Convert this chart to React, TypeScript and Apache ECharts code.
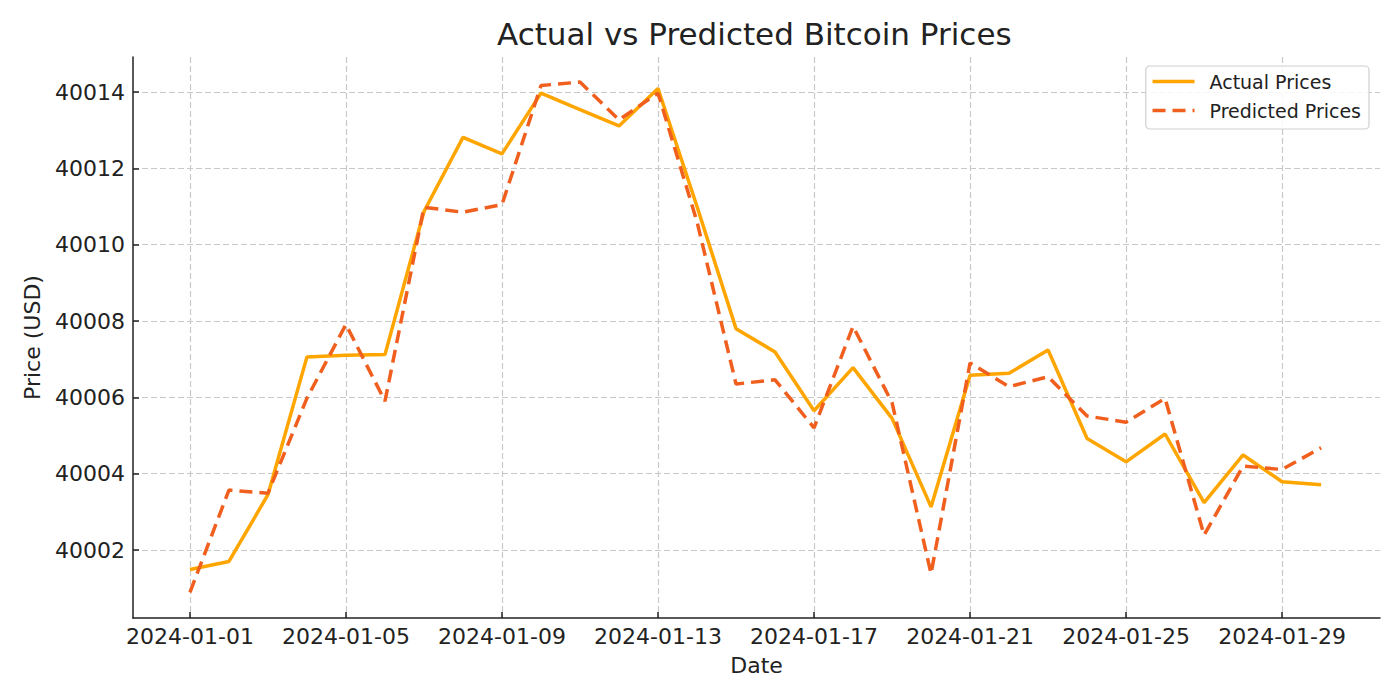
import * as echarts from 'echarts';
import { useEffect, useRef } from 'react';

const dates = [
    '2024-01-01', '2024-01-02', '2024-01-03', '2024-01-04', '2024-01-05',
    '2024-01-06', '2024-01-07', '2024-01-08', '2024-01-09', '2024-01-10',
    '2024-01-11', '2024-01-12', '2024-01-13', '2024-01-14', '2024-01-15',
    '2024-01-16', '2024-01-17', '2024-01-18', '2024-01-19', '2024-01-20',
    '2024-01-21', '2024-01-22', '2024-01-23', '2024-01-24', '2024-01-25',
    '2024-01-26', '2024-01-27', '2024-01-28', '2024-01-29', '2024-01-30',
];

const actualPrices = [
    40001.49, 40001.70, 40003.45, 40007.06, 40007.10, 40007.12, 40010.87, 40012.81,
    40012.38, 40013.97, 40013.54, 40013.11, 40014.09, 40011.0, 40007.80, 40007.19,
    40005.65, 40006.78, 40005.45, 40003.13, 40006.58, 40006.63, 40007.24, 40004.92,
    40004.31, 40005.04, 40003.24, 40004.49, 40003.79, 40003.71,
];

const predictedPrices = [
    40000.89, 40003.57, 40003.49, 40005.98, 40007.91, 40005.90, 40010.98, 40010.85,
    40011.05, 40014.17, 40014.26, 40013.27, 40013.97, 40010.6, 40006.35, 40006.46,
    40005.20, 40007.86, 40005.86, 40001.38, 40006.90, 40006.28, 40006.54, 40005.51,
    40005.35, 40005.97, 40002.39, 40004.20, 40004.11, 40004.68,
];

// every 4th day gets a label
const dateTicks = [0, 4, 8, 12, 16, 20, 24, 28];
const priceTicks = [40002, 40004, 40006, 40008, 40010, 40012, 40014];

const font = 'DejaVu Sans';
const textColor = '#222';

export default function App() {
    const chartRef = useRef<HTMLDivElement>(null);

    useEffect(() => {
        const chart = echarts.init(chartRef.current, null, { renderer: 'svg' });

        const axisTick = {
            show: true,
            inside: true,
            length: 6,
            lineStyle: { color: textColor, width: 1.5 },
        };
        const splitLine = {
            show: true,
            lineStyle: { color: '#c8c8c8', width: 1.2, type: [6, 3] },
        };

        chart.setOption({
            animation: false,
            backgroundColor: '#fff',
            textStyle: { fontFamily: font },
            title: {
                text: 'Actual vs Predicted Bitcoin Prices',
                left: 497,
                top: 16,
                padding: 0,
                textStyle: {
                    fontFamily: font,
                    fontSize: 31,
                    fontWeight: 'normal',
                    color: textColor,
                    lineHeight: 36,
                },
            },
            legend: {
                orient: 'vertical',
                right: 31,
                top: 66,
                padding: [6, 8, 9, 5],
                itemWidth: 42,
                itemHeight: 20,
                itemGap: 10,
                itemStyle: { opacity: 0 },
                lineStyle: { width: 3.5 },
                backgroundColor: 'rgba(255,255,255,0.85)',
                borderColor: '#d0d0d0',
                borderWidth: 1.2,
                borderRadius: 4,
                textStyle: {
                    fontFamily: font,
                    fontSize: 19,
                    color: textColor,
                    padding: [0, 0, 0, 10],
                },
                data: ['Actual Prices', 'Predicted Prices'],
            },
            grid: {
                left: 133,
                right: 20,
                top: 57,
                bottom: 82,
            },
            xAxis: {
                type: 'value',
                min: -1.46,
                max: 30.51,
                name: 'Date',
                nameLocation: 'middle',
                nameGap: 36,
                nameTextStyle: { fontFamily: font, fontSize: 22, color: textColor },
                axisLine: { show: true, onZero: false, lineStyle: { color: textColor, width: 1.5 } },
                axisTick: { ...axisTick, customValues: dateTicks },
                axisLabel: {
                    customValues: dateTicks,
                    margin: 7,
                    fontFamily: font,
                    fontSize: 22,
                    color: textColor,
                    formatter: (v: number) => dates[Math.round(v)],
                },
                splitLine,
            },
            yAxis: {
                type: 'value',
                min: 40000.219,
                max: 40014.917,
                name: 'Price (USD)',
                nameLocation: 'middle',
                nameRotate: 90,
                nameGap: 90,
                nameTextStyle: { fontFamily: font, fontSize: 22, color: textColor },
                axisLine: { show: true, onZero: false, lineStyle: { color: textColor, width: 1.5 } },
                axisTick: { ...axisTick, customValues: priceTicks },
                axisLabel: {
                    customValues: priceTicks,
                    margin: 8,
                    fontFamily: font,
                    fontSize: 22,
                    color: textColor,
                    formatter: (v: number) => String(Math.round(v)),
                },
                splitLine,
            },
            series: [
                {
                    name: 'Actual Prices',
                    type: 'line',
                    symbol: 'none',
                    data: actualPrices.map((v, i) => [i, v]),
                    lineStyle: { color: '#FFA500', width: 3.5 },
                    itemStyle: { color: '#FFA500' },
                },
                {
                    name: 'Predicted Prices',
                    type: 'line',
                    symbol: 'none',
                    data: predictedPrices.map((v, i) => [i, v]),
                    lineStyle: { color: '#F05F1E', width: 3.5, type: [13, 7], cap: 'butt' },
                    itemStyle: { color: '#F05F1E' },
                },
            ],
        });

        return () => {
            chart.dispose();
        };
    }, []);

    return <div
        ref={chartRef}
        style={{
            position: 'fixed',
            left: 0,
            top: 0,
            width: '1400px',
            height: '700px',
        }}
    />
}
